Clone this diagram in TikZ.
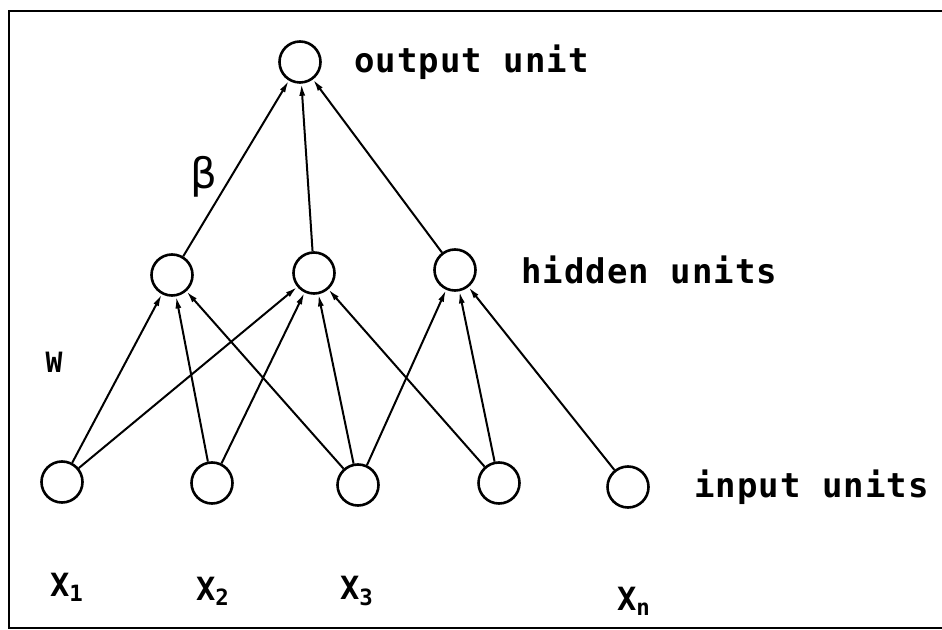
\documentclass[tikz,border=0pt]{standalone}
\usepackage{fontspec}
\newfontfamily\plotfont{DejaVu Sans Mono}[LetterSpace=3]
\newfontfamily\greekfont{DejaVu Sans}
\usetikzlibrary{arrows.meta, positioning}
\tikzset{
    unitnode/.style={
        circle,
        draw=black,
        line width=1.3pt,
        minimum size=20.5pt,
        inner sep=0pt
    },
    layerlabel/.style={
        inner sep=0pt,
        font=\plotfont\bfseries\fontsize{17}{19}\selectfont
    },
    varlabel/.style={
        inner sep=0pt,
        font=\plotfont\bfseries\fontsize{16}{18}\selectfont
    },
    linkarrow/.style={
        -{Latex[length=6pt, width=3pt]},
        line width=1pt,
        draw=black
    }
}

\begin{document}
\begin{tikzpicture}[x=0.5pt, y=-0.5pt]
    \useasboundingbox (0,0) rectangle (942,630);
    % frame
    \draw[line width=1.4pt] (942,11) -- (9,11) -- (9,628) -- (942,628);

    % output layer
    \node[unitnode] (output) at (300,62) {};
    \node[layerlabel, right=16pt of output] (outputlabel) {output unit};

    % hidden layer
    \node[unitnode] (hid1) at (172,275) {};
    \node[unitnode] (hid2) at (314,273) {};
    \node[unitnode] (hid3) at (455,270) {};
    \node[layerlabel, right=22pt of hid3] (hiddenlabel) {hidden units};

    % input layer
    \node[unitnode] (in1) at (62,482) {};
    \node[unitnode] (in2) at (212,483) {};
    \node[unitnode] (in3) at (358,485) {};
    \node[unitnode] (in4) at (499,483) {};
    \node[unitnode] (in5) at (628,487) {};
    \node[layerlabel, right=22pt of in5] (inputlabel) {input units};

    % variable names
    \node[varlabel] (x1) at (67,587) {X\textsubscript{1}};
    \node[varlabel] (x2) at (213,591) {X\textsubscript{2}};
    \node[varlabel] (x3) at (357,591) {X\textsubscript{3}};
    \node[varlabel] (xn) at (634,601) {X\textsubscript{n}};

    % weight names
    \node[inner sep=0pt, font=\plotfont\bfseries\fontsize{14}{16}\selectfont] (wname) at (54,362) {W};
    \node[inner sep=0pt, font=\greekfont\fontsize{21}{23}\selectfont] (betaname) at (204,177) {β};

    % hidden -> output
    \foreach \h in {hid1, hid2, hid3}
        \draw[linkarrow] (\h) -- (output);

    % input -> hidden
    \foreach \i/\h in {in1/hid1, in1/hid2, in2/hid1, in2/hid2, in3/hid1,
                       in3/hid2, in3/hid3, in4/hid2, in4/hid3, in5/hid3}
        \draw[linkarrow] (\i) -- (\h);
\end{tikzpicture}
\end{document}
